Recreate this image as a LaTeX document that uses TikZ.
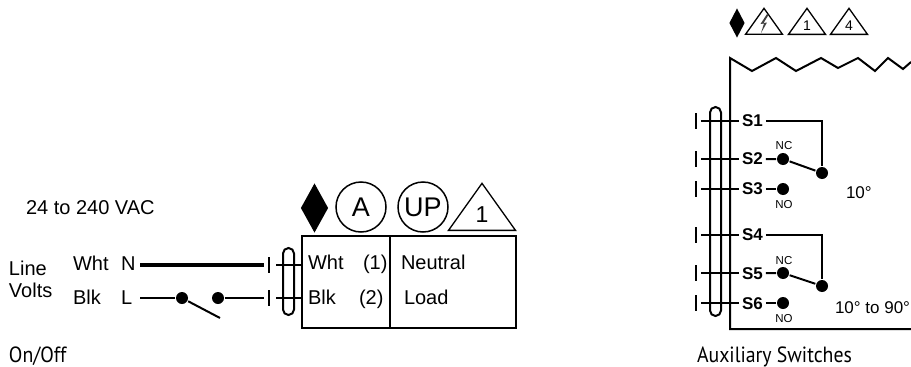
\documentclass[tikz,border=0pt]{standalone}
\usepackage{fontspec}
\setmainfont{Liberation Sans}
\newfontfamily\capfont[FakeStretch=0.9]{PT Sans}
\usetikzlibrary{shapes.geometric}
\begin{document}
\begin{tikzpicture}[x=1pt,y=-1pt,line width=2pt,
txt/.style={font=\fontsize{20}{24}\selectfont,inner sep=0pt,anchor=base west},
captxt/.style={font=\capfont\fontsize{22}{26}\selectfont,inner sep=0pt,anchor=base west},
slabel/.style={font=\bfseries\fontsize{17}{20}\selectfont,inner sep=2pt,anchor=base west},
smalltxt/.style={font=\fontsize{11.5}{14}\selectfont,inner sep=0pt,anchor=base},
degtxt/.style={font=\fontsize{17}{20}\selectfont,inner sep=0pt,anchor=base west},
dot/.style={circle,fill=black,inner sep=0pt,minimum size=12pt},
bar/.style={fill=black,inner sep=0pt,minimum width=2pt,minimum height=16pt},
loopbar/.style={draw,rounded corners=5.5pt,inner sep=0pt,minimum width=11pt},
markd/.style={diamond,fill=black,inner sep=0pt,aspect=0.56},
badge/.style={circle,draw,line width=1.5pt,inner sep=0pt,minimum size=50pt,font=\fontsize{27}{30}\selectfont},
warn/.style={isosceles triangle,isosceles triangle stretches,shape border rotate=90,draw,line width=1.3pt,inner sep=0pt,anchor=south}]
	\useasboundingbox (0,0) rectangle (911,367);
	\node[txt] (supply) at (25,214) {24 to 240 VAC};
	\node[txt] (line) at (8,275) {Line};
	\node[txt] (volts) at (8,297) {Volts};
	\node[txt] (whtin) at (72,270) {Wht};
	\node[txt] (blkin) at (72,304) {Blk};
	\node[txt] (nin) at (120,270) {N};
	\node[txt] (lin) at (120,304) {L};
	\node[captxt] (onoff) at (8,362) {On/Off};
	\coordinate (nstart) at (140,265);
	\coordinate (lstart) at (140,298);
	\coordinate (armend) at (220,318);
	\node[dot] (swa) at (182,298) {};
	\node[dot] (swb) at (218,298) {};
	\node[bar] (barn) at (269,265) {};
	\node[bar] (barl) at (269,298) {};
	\node[loopbar,minimum height=67pt] (loopa) at (288.5,281.5) {};
	\node[draw,line width=1.6pt,inner sep=0pt,minimum width=88pt,minimum height=92pt] (boxl) at (346,282) {};
	\node[draw,line width=1.6pt,inner sep=0pt,minimum width=126pt,minimum height=92pt] (boxr) at (453,282) {};
	\draw[line width=3.5pt,shorten >=3pt] (nstart) -- (barn);
	\draw (lstart) -- (swa);
	\draw (swa) -- (armend);
	\draw[shorten >=3pt] (swb) -- (barl);
	\draw[line width=2.5pt,shorten <=5pt] (barn) -- (barn -| boxl.west);
	\draw[shorten <=5pt] (barl) -- (barl -| boxl.west);
	\node[txt] (whtb) at (307,269) {Wht};
	\node[txt] (blkb) at (307,304) {Blk};
	\node[txt] (one) at (362,269) {(1)};
	\node[txt] (two) at (358,304) {(2)};
	\node[txt] (neutral) at (400,269) {Neutral};
	\node[txt] (load) at (403,304) {Load};
	\node[markd,minimum width=28pt,minimum height=50pt] (marka) at (314.5,208) {};
	\node[badge] (bada) at (361,207) {A};
	\node[badge] (badup) at (423,207) {UP};
	\node[warn,minimum width=67pt,minimum height=47pt,font=\fontsize{23}{26}\selectfont] (warna) at (482,231) {1};
	\node[markd,minimum width=16pt,minimum height=30pt] (markb) at (737,23) {};
	\node[warn,minimum width=37pt,minimum height=26pt] (warnb) at (764,35) {};
	\node[warn,minimum width=37pt,minimum height=26pt,font=\fontsize{14}{16}\selectfont] (warnc) at (807,35) {1};
	\node[warn,minimum width=37pt,minimum height=26pt,font=\fontsize{14}{16}\selectfont] (warnd) at (849,35) {4};
	\fill[black!75] (767,14) -- (760.5,24) -- (764,23.5) -- (761,33) -- (767,22.5) -- (763.5,23) -- (768.5,15) -- cycle;
	\draw (911,62) -- (903,69) -- (888,58) -- (875,71) -- (858,58) -- (838,68) -- (821,58) -- (796,71) -- (776,58) -- (752,71) -- (730,58) -- (730,329) -- (911,329);
	\node[loopbar,minimum height=209pt] (loopb) at (715.5,211.5) {};
	\node[bar] (bara) at (696,121) {};
	\node[bar] (barb) at (696,159) {};
	\node[bar] (barc) at (696,189) {};
	\node[bar] (bard) at (696,235) {};
	\node[bar] (bare) at (696,273) {};
	\node[bar] (barf) at (696,303) {};
	\node[slabel] (sa) at (739,126) {S1};
	\node[slabel] (sb) at (739,164) {S2};
	\node[slabel] (sc) at (739,194) {S3};
	\node[slabel] (sd) at (739,240) {S4};
	\node[slabel] (se) at (739,279) {S5};
	\node[slabel] (sf) at (739,309) {S6};
	\node[dot] (nca) at (783,159) {};
	\node[dot] (noa) at (783,189) {};
	\node[dot] (coma) at (822,173) {};
	\node[dot] (ncb) at (783,273) {};
	\node[dot] (nob) at (783,303) {};
	\node[dot] (comb) at (822,286) {};
	\draw[shorten <=3pt] (bara) -- (bara -| sa.west);
	\draw[shorten <=3pt] (barb) -- (barb -| sb.west);
	\draw[shorten <=3pt] (barc) -- (barc -| sc.west);
	\draw[shorten <=3pt] (bard) -- (bard -| sd.west);
	\draw[shorten <=3pt] (bare) -- (bare -| se.west);
	\draw[shorten <=3pt] (barf) -- (barf -| sf.west);
	\draw (bara -| sa.east) -- (bara -| coma) -- (coma);
	\draw (bard -| sd.east) -- (bard -| comb) -- (comb);
	\draw (nca -| sb.east) -- (nca) -- (coma);
	\draw (noa -| sc.east) -- (noa);
	\draw (ncb -| se.east) -- (ncb) -- (comb);
	\draw (nob -| sf.east) -- (nob);
	\node[smalltxt] (nctxt) at (784,149) {NC};
	\node[smalltxt] (notxt) at (784,208) {NO};
	\node[smalltxt] (nctxtb) at (784,264) {NC};
	\node[smalltxt] (notxtb) at (784,322) {NO};
	\node[degtxt] (tena) at (845,198) {10°};
	\node[degtxt] (tenb) at (834,313) {10° to 90°};
	\node[captxt] (aux) at (696,362) {Auxiliary Switches};
\end{tikzpicture}
\end{document}
